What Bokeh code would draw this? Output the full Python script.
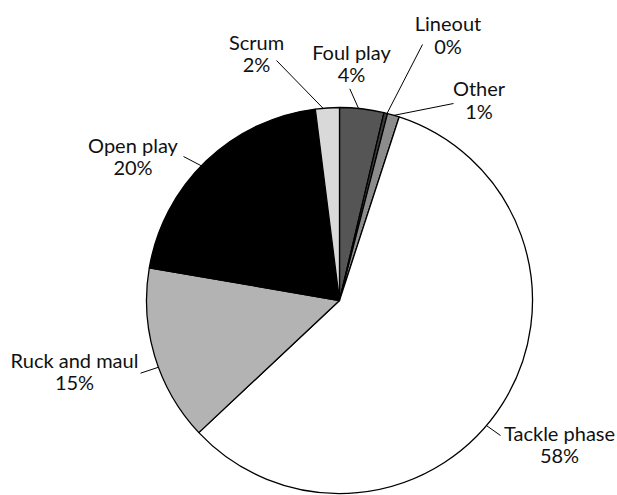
import math
from bokeh.plotting import figure
from bokeh.models import ColumnDataSource, Range1d
from bokeh.core.properties import value
from bokeh.embed import file_html
from bokeh.resources import INLINE

# ---- data (clockwise from 12 o'clock) ----
categories = ["Foul play", "Lineout", "Other", "Tackle phase", "Ruck and maul", "Open play", "Scrum"]
shares = [3.7, 0.3, 1.0, 58.0, 14.7, 20.3, 2.0]
colors = ["#555555", "#3a3a3a", "#8c8c8c", "#ffffff", "#b3b3b3", "#000000", "#d9d9d9"]

# ---- layout (pixel-like units, pie centre at origin) ----
R = 193
BASELINE_FIX = 9
label_cx = [12, 108.5, 139.5, 220, -265, -206.5, -83]
label_y1 = [240, 268.3, 203.3, -141, -68.3, 147, 250]
leader_end = [(10.3, 211.7), (83, 256), (114, 197), (161, -135), (-199, -72.7), (-156, 144), (-63, 240)]
leader_nudge = [-1.0, 0.4, 0.2, 8.0, -3.5, -2.0, -1.3]  # degrees
LINE_GAP = 22.5

total = sum(shares)
starts, ends, mids = [], [], []
acc = 0.0
for s in shares:
    a0 = acc / total * 360.0
    acc += s
    a1 = acc / total * 360.0
    starts.append(a0)
    ends.append(a1)
    mids.append((a0 + a1) / 2)

src = ColumnDataSource(dict(
    start=[math.radians(90 - a) for a in starts],
    end=[math.radians(90 - a) for a in ends],
    color=colors,
))

p = figure(width=617, height=495, output_backend="svg", toolbar_location=None,
           x_range=Range1d(-339, 278), y_range=Range1d(-195, 300),
           min_border=0, tools="")
p.axis.visible = False
p.grid.visible = False
p.outline_line_color = None
p.background_fill_color = "white"

p.wedge(x=0, y=0, radius=R, start_angle="start", end_angle="end", direction="clock",
        fill_color="color", line_color="black", line_width=1.3, source=src)

xs, ys = [], []
for m, nd, (ex, ey) in zip(mids, leader_nudge, leader_end):
    a = math.radians(m + nd)
    xs.append([R * math.sin(a), ex])
    ys.append([R * math.cos(a), ey])
p.multi_line(xs=xs, ys=ys, line_color="black", line_width=1)

pct = [f"{round(s / total * 100)}%" for s in shares]
tsrc = ColumnDataSource(dict(
    x=label_cx,
    y1=[y + BASELINE_FIX for y in label_y1],
    y2=[y + BASELINE_FIX - LINE_GAP for y in label_y1],
    name=categories,
    pct=pct,
))
common = dict(text_font=value("Lato"), text_font_size="20px", text_color="#111111",
              text_align="center", text_baseline="alphabetic", source=tsrc)
p.text(x="x", y="y1", text="name", **common)
p.text(x="x", y="y2", text="pct", **common)

open("out.html", "w").write(file_html(p, INLINE))
